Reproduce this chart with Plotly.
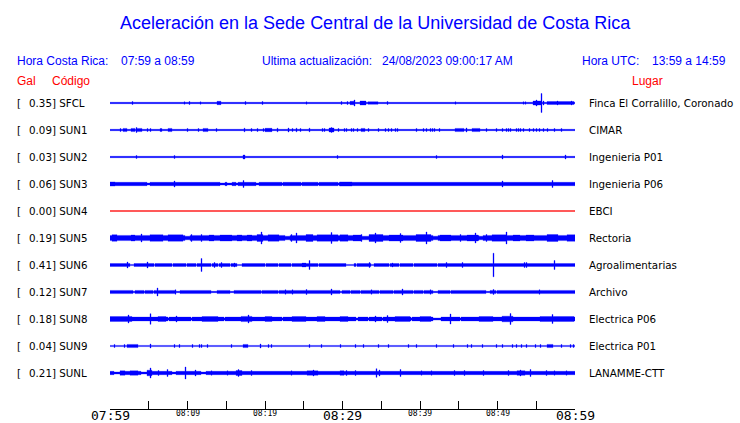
import numpy as np
import plotly.graph_objects as go

# ---------------- data ----------------
TITLE = "Aceleración en la Sede Central de la Universidad de Costa Rica"
HORA_CR = "07:59 a 08:59"
HORA_UTC = "13:59 a 14:59"
ACTUALIZACION = "24/08/2023 09:00:17 AM"

CODES = ["SFCL", "SUN1", "SUN2", "SUN3", "SUN4", "SUN5", "SUN6", "SUN7", "SUN8", "SUN9", "SUNL"]
GAL = [0.35, 0.09, 0.03, 0.06, 0.00, 0.19, 0.41, 0.12, 0.18, 0.04, 0.21]
PLACES = ["Finca El Corralillo, Coronado", "CIMAR", "Ingenieria P01", "Ingenieria P06", "EBCI",
          "Rectoria", "Agroalimentarias", "Archivo", "Electrica P06", "Electrica P01", "LANAMME-CTT"]

# background (noise) half amplitude of each trace, relative units
BASE = [0.7, 0.7, 0.7, 1.7, 0.5, 2.6, 1.5, 1.6, 1.9, 0.6, 1.7]

# bursts / spikes: (start minute, end minute, half amplitude)  (minutes after 07:59)
EV_SFCL = [(2.9, 2.9, 1.5), (9.6, 9.6, 1.2), (10.2, 10.2, 1.5), (11.7, 11.7, 1.2), (13.9, 14.2, 1.7),
           (17.5, 17.5, 1.5), (19.7, 19.7, 1.5), (25.3, 25.3, 1.2), (29.9, 29.9, 1.5), (30.6, 30.6, 1.5),
           (31.0, 31.6, 1.7), (31.5, 31.5, 3.0), (32.3, 33.0, 2.0), (33.3, 34.5, 1.3), (35.8, 35.8, 1.5),
           (44.6, 44.6, 1.2), (53.3, 53.3, 1.2), (53.6, 53.6, 1.2), (54.6, 55.5, 2.0), (55.0, 55.0, 3.0),
           (55.7, 55.7, 9.5), (55.9, 55.9, 2.0), (56.5, 59.8, 1.5), (57.8, 57.8, 2.0), (59.5, 59.5, 2.0)]
EV_SUN1 = [(1.4, 1.4, 1.5), (1.8, 2.1, 1.6), (2.8, 3.1, 1.6), (3.4, 3.4, 2.5), (3.6, 4.1, 1.6), (4.9, 4.9, 1.5),
           (5.2, 5.2, 1.5), (6.5, 6.5, 1.5), (6.7, 6.7, 1.5), (7.5, 8.0, 1.6), (10.0, 10.0, 1.5), (11.4, 11.4, 1.5),
           (12.1, 12.6, 1.6), (13.8, 13.8, 1.5), (17.4, 17.4, 1.8), (18.2, 18.2, 1.5), (19.0, 19.0, 1.5),
           (19.8, 19.8, 1.5), (20.1, 20.8, 1.7), (21.6, 21.6, 1.8), (23.0, 23.0, 2.0), (23.6, 23.6, 1.5),
           (24.0, 24.0, 1.8), (24.6, 24.6, 1.5), (25.8, 25.8, 1.8), (27.4, 27.4, 1.5), (27.7, 27.7, 1.5),
           (28.3, 28.8, 2.0), (28.6, 28.6, 2.5), (29.5, 29.5, 1.5), (30.2, 30.2, 1.5), (30.5, 30.5, 1.5),
           (31.1, 31.1, 1.5), (31.4, 31.4, 1.5), (31.9, 31.9, 1.5), (32.5, 32.9, 1.6), (33.4, 33.4, 1.5),
           (34.7, 34.7, 1.5), (35.6, 35.6, 1.5), (35.9, 35.9, 1.5), (36.3, 36.3, 1.5), (36.8, 36.8, 1.5),
           (37.1, 37.1, 1.5), (39.6, 39.6, 1.5), (40.4, 40.4, 1.5), (40.9, 40.9, 1.5), (41.3, 41.3, 1.5),
           (41.6, 41.6, 1.5), (41.9, 41.9, 1.5), (42.5, 42.5, 1.5), (44.6, 45.6, 1.6), (46.0, 46.0, 2.0),
           (46.8, 47.7, 1.6), (48.6, 48.6, 1.5), (49.9, 49.9, 1.5), (50.6, 50.6, 1.5), (51.1, 51.1, 1.5),
           (51.4, 51.4, 1.5), (51.7, 51.7, 1.5), (52.4, 52.4, 1.5), (52.7, 52.7, 1.5), (53.0, 53.0, 1.5),
           (53.3, 53.3, 1.5), (54.1, 54.1, 1.5), (54.7, 54.7, 1.5), (55.0, 55.0, 1.5), (55.4, 55.4, 1.5),
           (55.9, 55.9, 1.5), (56.5, 56.5, 1.5), (57.3, 57.3, 1.5), (58.2, 58.2, 1.5)]
EV_SUN2 = [(3.4, 3.4, 1.5), (8.3, 8.3, 1.5), (17.2, 17.4, 2.0), (29.3, 29.3, 1.5), (42.1, 42.1, 1.5),
           (50.7, 50.7, 2.0), (58.8, 58.8, 2.0)]
EV_SUN3 = [(4.9, 5.1, 1.0), (14.2, 14.8, 1.0), (15.1, 15.7, 1.0), (16.3, 16.5, 1.0), (18.9, 19.1, 1.0),
           (22.2, 22.2, 1.0), (24.7, 24.7, 1.0), (26.9, 26.9, 1.0), (29.5, 29.5, 1.0),
           (0.0, 0.6, 2.1), (8.3, 8.3, 3.0), (17.2, 17.2, 3.5), (29.7, 31.2, 2.1), (50.7, 50.7, 3.0),
           (57.1, 57.1, 3.5)]
EV_SUN4 = []
EV_SUN5 = [(9.7, 10.3, 1.8), (22.6, 23.2, 1.8), (32.6, 33.3, 1.8), (41.7, 42.3, 1.8), (47.7, 48.1, 1.8),
           (0.3, 0.9, 3.3), (2.8, 3.2, 3.0), (4.1, 4.1, 4.0), (5.2, 6.8, 3.3), (7.5, 9.3, 3.2), (10.5, 10.5, 3.5),
           (11.8, 11.8, 3.5), (12.9, 13.3, 3.0), (14.2, 15.7, 3.0), (16.5, 17.0, 3.0), (17.8, 18.3, 3.0),
           (19.0, 19.7, 3.4), (19.5, 19.5, 6.0), (20.4, 21.7, 3.2), (23.4, 23.4, 3.5), (24.1, 24.1, 5.0),
           (25.4, 26.1, 3.4), (26.8, 29.4, 3.2), (28.6, 28.6, 5.5), (29.7, 30.6, 3.2), (31.4, 32.3, 3.0),
           (32.5, 32.5, 3.5), (33.5, 35.2, 3.4), (34.3, 34.3, 5.0), (36.1, 37.8, 3.0), (37.5, 37.5, 4.5),
           (39.6, 41.3, 3.4), (40.9, 40.9, 6.0), (42.6, 43.9, 3.0), (45.2, 45.2, 3.5), (46.1, 47.4, 3.0),
           (47.1, 47.1, 5.0), (48.6, 48.6, 3.5), (49.4, 51.2, 3.2), (51.1, 51.1, 6.0), (52.0, 52.9, 3.0),
           (53.8, 54.6, 3.0), (56.5, 57.7, 3.4), (59.0, 60.0, 3.3)]
EV_SUN6 = [(2.6, 3.0, 0.6), (5.8, 5.8, 0.6), (8.0, 8.0, 0.6), (9.9, 9.9, 0.6), (11.2, 11.2, 0.6),
           (13.1, 13.1, 0.6), (14.0, 14.0, 0.6), (15.6, 15.6, 0.6), (16.5, 17.0, 0.6), (20.0, 20.0, 0.6),
           (21.7, 21.7, 0.6), (23.4, 23.4, 0.6), (26.9, 26.9, 0.6), (30.5, 31.4, 0.6), (31.8, 31.8, 0.6),
           (33.8, 34.0, 0.6), (36.1, 36.1, 0.6), (37.4, 37.4, 0.6), (39.1, 39.1, 0.6), (42.2, 42.2, 0.6),
           (2.2, 2.2, 3.0), (4.9, 4.9, 3.0), (11.8, 11.8, 6.5), (13.5, 13.5, 2.5), (14.4, 14.4, 2.5),
           (16.1, 16.1, 2.0), (24.8, 25.2, 1.9), (25.7, 25.7, 4.5), (33.5, 33.5, 2.5), (36.4, 36.4, 2.0),
           (43.4, 43.4, 2.5), (45.5, 45.5, 2.5), (49.5, 49.5, 11.8), (53.5, 53.5, 2.5), (53.7, 53.7, 2.5),
           (57.3, 57.3, 4.5)]
EV_SUN7 = [(3.0, 3.2, 0.7), (4.4, 4.4, 0.7), (5.6, 5.6, 0.7), (8.6, 9.0, 0.7), (13.1, 13.8, 0.7),
           (15.6, 15.9, 0.7), (19.6, 19.6, 0.7), (21.7, 21.7, 0.7), (29.7, 29.9, 0.7), (31.0, 31.0, 0.7),
           (32.3, 32.3, 0.7), (34.8, 34.8, 0.7), (36.6, 36.6, 0.7), (39.1, 39.1, 0.7), (40.4, 40.4, 0.7),
           (41.7, 42.2, 0.7), (43.9, 43.9, 0.7), (48.6, 49.0, 0.7), (49.9, 49.9, 0.7),
           (6.1, 6.1, 4.0), (8.4, 8.4, 2.2), (22.6, 22.6, 2.2), (23.5, 23.5, 2.2), (25.4, 25.4, 2.5),
           (28.6, 28.6, 3.0), (33.8, 33.8, 2.2), (37.7, 37.7, 3.0), (41.3, 41.3, 2.2), (49.5, 49.5, 2.5),
           (55.4, 55.4, 2.2)]
EV_SUN8 = [(7.5, 7.5, 1.0), (10.5, 10.5, 1.0), (14.8, 14.8, 1.0), (22.2, 22.2, 1.0), (31.8, 32.0, 1.0),
           (33.3, 33.3, 1.0), (35.1, 35.1, 1.0), (38.9, 38.9, 1.0), (41.7, 42.6, 1.0), (45.2, 45.2, 1.0),
           (0.0, 2.8, 2.4), (2.4, 2.4, 4.0), (5.2, 5.2, 5.3), (6.2, 7.1, 2.4), (8.6, 8.6, 3.0), (11.9, 13.9, 2.4),
           (17.0, 18.3, 2.6), (17.9, 17.9, 4.0), (20.0, 20.9, 2.4), (23.5, 25.2, 2.4), (26.8, 27.7, 2.4),
           (29.7, 30.6, 2.4), (34.3, 34.3, 3.0), (35.8, 35.8, 3.5), (36.8, 38.7, 2.4), (40.0, 41.3, 2.4),
           (43.9, 43.9, 5.0), (47.7, 49.4, 2.4), (50.7, 52.0, 2.8), (51.7, 51.7, 5.5), (55.5, 59.8, 2.5),
           (57.1, 57.1, 4.5)]
EV_SUN9 = [(0.6, 0.6, 1.5), (1.9, 1.9, 1.5), (2.3, 3.5, 1.6), (5.2, 5.2, 2.0), (8.3, 8.3, 1.5), (9.0, 9.0, 1.5),
           (10.6, 10.6, 1.5), (11.6, 11.6, 1.5), (11.8, 11.8, 1.5), (12.6, 12.6, 1.5), (15.7, 15.7, 1.5),
           (17.2, 17.7, 1.6), (19.4, 19.4, 2.0), (20.4, 20.4, 1.5), (20.8, 20.8, 1.5), (25.8, 25.8, 1.5),
           (27.3, 27.3, 1.5), (29.7, 29.7, 1.5), (31.7, 31.7, 1.5), (32.7, 32.7, 1.5), (34.6, 34.6, 1.5),
           (35.9, 35.9, 1.5), (38.5, 38.5, 1.5), (39.6, 39.6, 1.5), (42.1, 42.1, 1.5), (44.3, 44.3, 1.5),
           (46.1, 46.1, 1.5), (46.7, 46.7, 1.5), (48.0, 48.0, 1.5), (49.9, 49.9, 1.5), (50.7, 50.7, 1.5),
           (51.9, 51.9, 1.5), (52.5, 52.5, 1.5), (53.1, 53.1, 1.5), (53.7, 53.7, 1.5), (54.9, 54.9, 1.5),
           (55.5, 55.5, 1.5), (56.5, 57.1, 1.6), (58.3, 58.3, 1.5), (59.4, 59.4, 1.5), (59.8, 59.8, 1.5)]
EV_SUNL = [(0.6, 1.2, 1.0), (4.1, 4.7, 1.0), (8.0, 8.5, 1.0), (11.8, 12.3, 1.0),
           (1.3, 1.9, 2.2), (2.6, 3.6, 2.2), (4.9, 5.4, 2.8), (5.2, 5.2, 5.0), (6.2, 6.2, 2.5), (7.4, 7.4, 3.5),
           (9.8, 9.8, 6.0), (11.0, 11.0, 3.0), (13.1, 13.1, 2.2), (15.1, 15.1, 2.2), (16.3, 17.0, 2.5),
           (16.6, 16.6, 3.5), (18.3, 18.3, 2.5), (23.4, 23.4, 2.2), (25.5, 26.8, 2.2), (26.3, 26.3, 3.0),
           (29.7, 30.1, 2.3), (30.5, 30.5, 2.5), (31.7, 31.7, 2.5), (34.4, 34.4, 4.3), (34.8, 34.8, 3.0),
           (37.5, 37.5, 3.5), (40.2, 40.2, 2.2), (41.5, 41.5, 2.2), (44.5, 44.5, 2.5), (45.7, 45.7, 2.5),
           (48.2, 48.2, 2.5), (51.4, 51.4, 2.5), (52.6, 53.5, 2.3), (53.0, 53.0, 3.0), (54.3, 54.3, 3.5),
           (56.3, 56.3, 2.5), (57.4, 57.4, 2.2), (58.9, 58.9, 2.2)]
EVENTS = [EV_SFCL, EV_SUN1, EV_SUN2, EV_SUN3, EV_SUN4, EV_SUN5, EV_SUN6, EV_SUN7, EV_SUN8, EV_SUN9, EV_SUNL]

TICK_MIN = [0, 5, 10, 15, 20, 25, 30, 35, 40, 45, 50, 55, 60]
TICK_LABELS = ["07:59", "", "08:09", "", "08:19", "", "08:29", "", "08:39", "", "08:49", "", "08:59"]
BIG_LABELS = ["07:59", "08:29", "08:59"]

# ---------------- layout constants ----------------
W, H = 740, 423
PL, PR = 110, 575          # plot area left/right pixel
PT, PB = 90, 409           # plot area top/bottom pixel
ROW_PX = 27
ROW0_PX = 103
Y_TOP = (ROW0_PX - PT) / ROW_PX
Y_BOT = -((PB - ROW0_PX) / ROW_PX)
AMP_SCALE = 1.0 / ROW_PX
NCOL = PR - PL
BLUE = "#0000ff"
RED = "#ff0000"


def px_x(p):
    return (p - PL) / (PR - PL)


def px_y(p):
    return (PB - p) / (PB - PT)


def envelope(base, events):
    dc = 60.0 / NCOL
    env = np.full(NCOL, base, dtype=float)
    for s, e, a in sorted(events, key=lambda t: t[2]):
        i0 = int(np.floor(s / dc + 1e-9))
        i1 = max(int(np.ceil(e / dc - 1e-9)), i0 + 1)
        i0, i1 = max(0, i0), min(NCOL, i1)
        env[i0:i1] = a
    edges = np.arange(NCOL + 1) * dc
    return edges, env


fig = go.Figure()
for i, code in enumerate(CODES):
    edges, env = envelope(BASE[i], EVENTS[i])
    xs, up = [], []
    for k in range(NCOL):
        xs += [edges[k], edges[k + 1]]
        up += [env[k], env[k]]
    xs = np.array(xs)
    up = np.array(up) * AMP_SCALE
    c = -i
    px = np.concatenate([xs, xs[::-1]])
    py = np.concatenate([c + up, (c - up)[::-1]])
    color = RED if GAL[i] == 0 else BLUE
    fig.add_trace(go.Scatter(x=px, y=py, mode="lines", fill="toself", fillcolor=color,
                             line=dict(color=color, width=0.3, simplify=False),
                             hoverinfo="skip", showlegend=False))

ann = []
LBL_FONT = dict(family="DejaVu Sans", size=10.3, color="black")
for i, code in enumerate(CODES):
    ann.append(dict(x=px_x(15), xref="paper", y=-i, yref="y", text="[", showarrow=False,
                    xanchor="left", yanchor="middle", font=LBL_FONT))
    ann.append(dict(x=px_x(27), xref="paper", y=-i, yref="y", text=f"{GAL[i]:.2f}] {code}",
                    showarrow=False, xanchor="left", yanchor="middle", font=LBL_FONT))
    ann.append(dict(x=px_x(587), xref="paper", y=-i, yref="y", text=PLACES[i], showarrow=False,
                    xanchor="left", yanchor="middle", font=LBL_FONT))

HDR = dict(family="Liberation Sans, Arial", size=12, color=BLUE)
RHDR = dict(family="Liberation Sans, Arial", size=12, color=RED)


def head(xp, yp, text, font, anchor="left"):
    ann.append(dict(x=px_x(xp), xref="paper", y=px_y(yp), yref="paper", text=text, showarrow=False,
                    xanchor=anchor, yanchor="middle", font=font))


head(375, 23, TITLE, dict(family="Liberation Sans, Arial", size=18, color=BLUE), "center")
head(15, 61, "Hora Costa Rica:", HDR)
head(119, 61, HORA_CR, HDR)
head(260, 61, "Ultima actualización:", HDR)
head(380, 61, ACTUALIZACION, HDR)
head(580, 61, "Hora UTC:", HDR)
head(650, 61, HORA_UTC, HDR)
head(15, 81, "Gal", RHDR)
head(50, 81, "Código", RHDR)
head(630, 81, "Lugar", RHDR)

for t, lab in zip(TICK_MIN, TICK_LABELS):
    if not lab:
        continue
    big = lab in BIG_LABELS
    ann.append(dict(x=t, xref="x", y=px_y(415 if big else 413.5), yref="paper", text=lab, showarrow=False,
                    xanchor="center", yanchor="middle",
                    font=dict(family="DejaVu Sans Mono", size=13 if big else 8, color="black")))

fig.update_layout(
    width=W, height=H,
    margin=dict(l=PL, r=W - PR, t=PT, b=H - PB, pad=0),
    paper_bgcolor="white", plot_bgcolor="white",
    annotations=ann,
    xaxis=dict(range=[0, 60], tickvals=TICK_MIN, showticklabels=False, ticks="inside", ticklen=8,
               tickcolor="black", tickwidth=1, showline=True, linecolor="black", linewidth=1,
               showgrid=False, zeroline=False, fixedrange=True),
    yaxis=dict(range=[Y_BOT, Y_TOP], visible=False, showgrid=False, zeroline=False, fixedrange=True),
)

fig.write_html("out.html", config={"displayModeBar": False},
               post_script="document.body.style.margin='0';document.body.style.padding='0';")
